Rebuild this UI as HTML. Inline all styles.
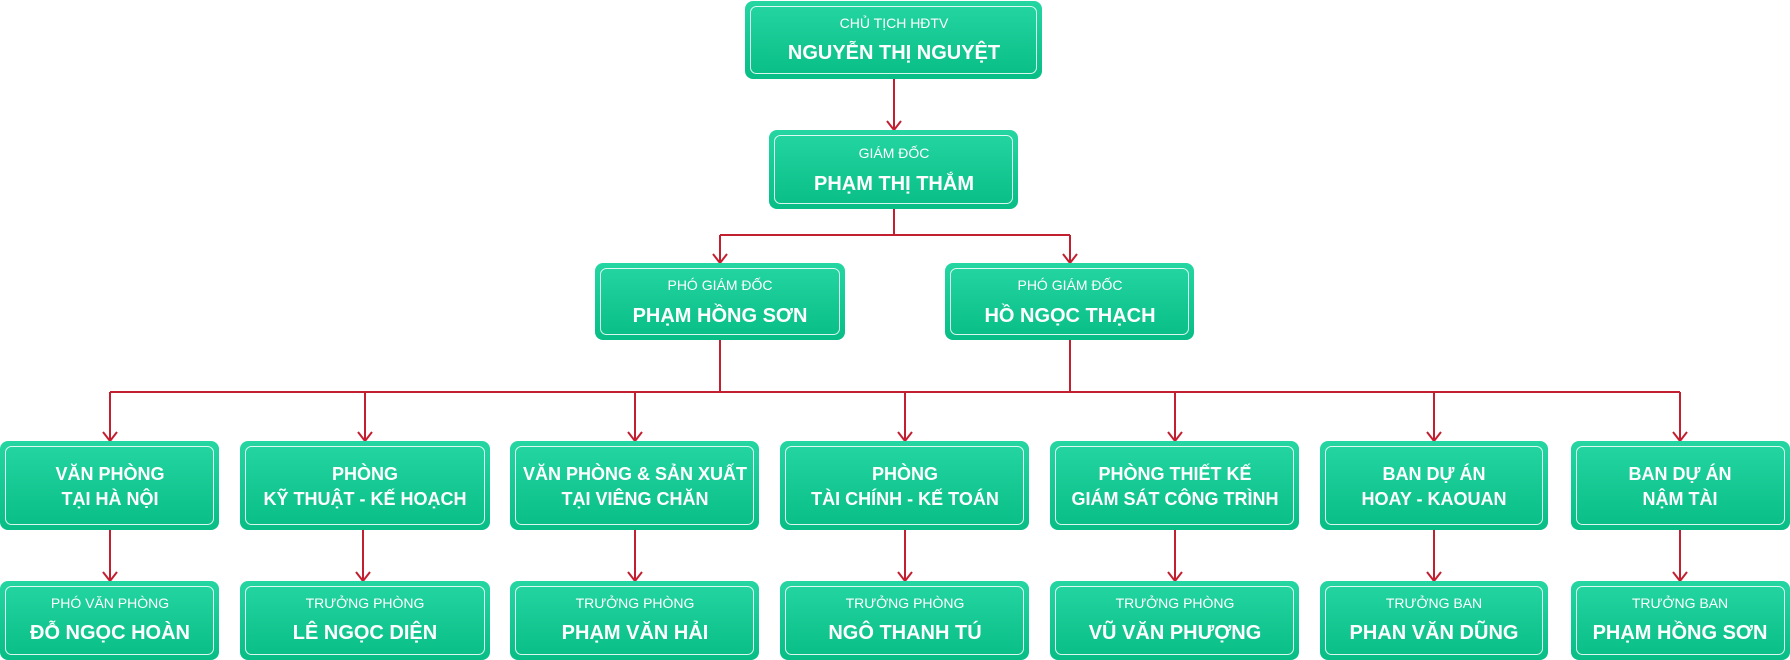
<!DOCTYPE html>
<html><head><meta charset="utf-8"><style>
html,body{margin:0;padding:0;background:#fff;}
svg{display:block;font-family:"Liberation Sans",Arial,sans-serif;}
.l{fill:#fff;font-size:14px;text-anchor:middle;}
.n{fill:#fff;font-size:20px;font-weight:bold;text-anchor:middle;}
.d{fill:#fff;font-size:18px;font-weight:bold;text-anchor:middle;}
.c{stroke:#c21f30;stroke-width:2;fill:none;}
</style></head><body>
<svg width="1790" height="660" viewBox="0 0 1790 660">
<defs>
<linearGradient id="g" x1="0" y1="0" x2="0" y2="1">
<stop offset="0" stop-color="#25d6a2"/><stop offset="1" stop-color="#08bd86"/>
</linearGradient>
<g id="ah"><path d="M-7,-9 L0,0 L7,-9" class="c"/></g>
</defs>
<!-- connectors -->
<g class="c">
<path d="M894 79V130"/>
<path d="M894 209V235M720 235H1070M720 235V263M1070 235V263"/>
<path d="M720 340V392M1070 340V392M110 392H1680"/>
<path d="M110 392V441M365 392V441M635 392V441M905 392V441M1175 392V441M1434 392V441M1680 392V441"/>
<path d="M110 530V581M363 530V581M635 530V581M905 530V581M1175 530V581M1434 530V581M1680 530V581"/>
</g>
<g>
<use href="#ah" x="894" y="130"/>
<use href="#ah" x="720" y="263"/><use href="#ah" x="1070" y="263"/>
<use href="#ah" x="110" y="441"/><use href="#ah" x="365" y="441"/><use href="#ah" x="635" y="441"/><use href="#ah" x="905" y="441"/><use href="#ah" x="1175" y="441"/><use href="#ah" x="1434" y="441"/><use href="#ah" x="1680" y="441"/>
<use href="#ah" x="110" y="581"/><use href="#ah" x="363" y="581"/><use href="#ah" x="635" y="581"/><use href="#ah" x="905" y="581"/><use href="#ah" x="1175" y="581"/><use href="#ah" x="1434" y="581"/><use href="#ah" x="1680" y="581"/>
</g>
<!-- boxes -->
<g>
<rect x="745" y="1" width="297" height="78" rx="8" fill="url(#g)"/><rect x="750.5" y="6.5" width="286" height="67" rx="6" fill="none" stroke="#fff" stroke-opacity=".85"/>
<rect x="769" y="130" width="249" height="79" rx="8" fill="url(#g)"/><rect x="774.5" y="135.5" width="238" height="68" rx="6" fill="none" stroke="#fff" stroke-opacity=".85"/>
<rect x="595" y="263" width="250" height="77" rx="8" fill="url(#g)"/><rect x="600.5" y="268.5" width="239" height="66" rx="6" fill="none" stroke="#fff" stroke-opacity=".85"/>
<rect x="945" y="263" width="249" height="77" rx="8" fill="url(#g)"/><rect x="950.5" y="268.5" width="238" height="66" rx="6" fill="none" stroke="#fff" stroke-opacity=".85"/>
</g>
<text class="l" x="894" y="28">CHỦ TỊCH HĐTV</text><text class="n" x="894" y="59">NGUYỄN THỊ NGUYỆT</text>
<text class="l" x="894" y="158">GIÁM ĐỐC</text><text class="n" x="894" y="190">PHẠM THỊ THẮM</text>
<text class="l" x="720" y="290">PHÓ GIÁM ĐỐC</text><text class="n" x="720" y="322">PHẠM HỒNG SƠN</text>
<text class="l" x="1070" y="290">PHÓ GIÁM ĐỐC</text><text class="n" x="1070" y="322">HỒ NGỌC THẠCH</text>
<!-- dept row -->
<g fill="url(#g)">
<rect x="0" y="441" width="219" height="89" rx="8"/><rect x="240" y="441" width="250" height="89" rx="8"/><rect x="510" y="441" width="249" height="89" rx="8"/><rect x="780" y="441" width="249" height="89" rx="8"/><rect x="1050" y="441" width="249" height="89" rx="8"/><rect x="1320" y="441" width="228" height="89" rx="8"/><rect x="1571" y="441" width="219" height="89" rx="8"/>
<rect x="0" y="581" width="219" height="79" rx="8"/><rect x="240" y="581" width="250" height="79" rx="8"/><rect x="510" y="581" width="249" height="79" rx="8"/><rect x="780" y="581" width="249" height="79" rx="8"/><rect x="1050" y="581" width="249" height="79" rx="8"/><rect x="1320" y="581" width="228" height="79" rx="8"/><rect x="1571" y="581" width="219" height="79" rx="8"/>
</g>
<g fill="none" stroke="#fff" stroke-opacity=".85">
<rect x="5.5" y="446.5" width="208" height="78" rx="6"/><rect x="245.5" y="446.5" width="239" height="78" rx="6"/><rect x="515.5" y="446.5" width="238" height="78" rx="6"/><rect x="785.5" y="446.5" width="238" height="78" rx="6"/><rect x="1055.5" y="446.5" width="238" height="78" rx="6"/><rect x="1325.5" y="446.5" width="217" height="78" rx="6"/><rect x="1576.5" y="446.5" width="208" height="78" rx="6"/>
<rect x="5.5" y="586.5" width="208" height="68" rx="6"/><rect x="245.5" y="586.5" width="239" height="68" rx="6"/><rect x="515.5" y="586.5" width="238" height="68" rx="6"/><rect x="785.5" y="586.5" width="238" height="68" rx="6"/><rect x="1055.5" y="586.5" width="238" height="68" rx="6"/><rect x="1325.5" y="586.5" width="217" height="68" rx="6"/><rect x="1576.5" y="586.5" width="208" height="68" rx="6"/>
</g>
<text class="d" x="110" y="480">VĂN PHÒNG</text><text class="d" x="110" y="505">TẠI HÀ NỘI</text>
<text class="d" x="365" y="480">PHÒNG</text><text class="d" x="365" y="505">KỸ THUẬT - KẾ HOẠCH</text>
<text class="d" x="635" y="480">VĂN PHÒNG &amp; SẢN XUẤT</text><text class="d" x="635" y="505">TẠI VIÊNG CHĂN</text>
<text class="d" x="905" y="480">PHÒNG</text><text class="d" x="905" y="505">TÀI CHÍNH - KẾ TOÁN</text>
<text class="d" x="1175" y="480">PHÒNG THIẾT KẾ</text><text class="d" x="1175" y="505">GIÁM SÁT CÔNG TRÌNH</text>
<text class="d" x="1434" y="480">BAN DỰ ÁN</text><text class="d" x="1434" y="505">HOAY - KAOUAN</text>
<text class="d" x="1680" y="480">BAN DỰ ÁN</text><text class="d" x="1680" y="505">NẬM TÀI</text>
<text class="l" x="110" y="608">PHÓ VĂN PHÒNG</text><text class="n" x="110" y="639">ĐỖ NGỌC HOÀN</text>
<text class="l" x="365" y="608">TRƯỞNG PHÒNG</text><text class="n" x="365" y="639">LÊ NGỌC DIỆN</text>
<text class="l" x="635" y="608">TRƯỞNG PHÒNG</text><text class="n" x="635" y="639">PHẠM VĂN HẢI</text>
<text class="l" x="905" y="608">TRƯỞNG PHÒNG</text><text class="n" x="905" y="639">NGÔ THANH TÚ</text>
<text class="l" x="1175" y="608">TRƯỞNG PHÒNG</text><text class="n" x="1175" y="639">VŨ VĂN PHƯỢNG</text>
<text class="l" x="1434" y="608">TRƯỞNG BAN</text><text class="n" x="1434" y="639">PHAN VĂN DŨNG</text>
<text class="l" x="1680" y="608">TRƯỞNG BAN</text><text class="n" x="1680" y="639">PHẠM HỒNG SƠN</text>
</svg>
</body></html>
